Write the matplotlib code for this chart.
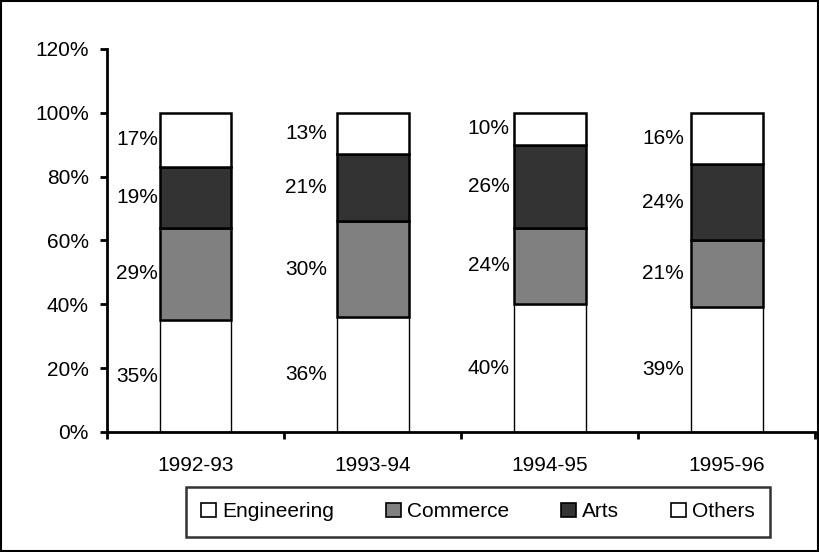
import matplotlib
matplotlib.use('Agg')
import matplotlib.pyplot as plt
from matplotlib.patches import Rectangle
import numpy as np

plt.rcParams['font.family'] = ['Liberation Sans', 'DejaVu Sans']

# data
years = ['1992-93', '1993-94', '1994-95', '1995-96']
engineering = [35, 36, 40, 39]
commerce = [29, 30, 24, 21]
arts = [19, 21, 26, 24]
others = [17, 13, 10, 16]

series = [('Engineering', engineering, 'white', 1.0),
          ('Commerce', commerce, '#808080', 1.8),
          ('Arts', arts, '#333333', 1.8),
          ('Others', others, 'white', 1.8)]

fs = 15
# horizontal offset of the value labels from each bar centre (category units)
label_dx = [-0.33, -0.375, -0.345, -0.36]

fig = plt.figure(figsize=(8.2, 5.52), dpi=100)
ax = fig.add_axes([0.1305, 0.2174, 0.864, 0.694])

x = np.arange(len(years))
bottom = np.zeros(len(years))
handles = []
for name, vals, col, lw in series:
    vals = np.array(vals, dtype=float)
    ax.bar(x, vals / 100, bottom=bottom / 100, width=0.405, color=col,
           edgecolor='black', linewidth=lw, zorder=2)
    for i in range(len(years)):
        ax.text(x[i] + label_dx[i], (bottom[i] + vals[i] / 2) / 100, f'{int(vals[i])}%',
                ha='center', va='center', fontsize=fs, zorder=3,
                bbox=dict(facecolor='white', edgecolor='none', pad=0.3))
    bottom += vals
    handles.append(Rectangle((0, 0), 1, 1, facecolor=col, edgecolor='black', linewidth=1.2))

ax.set_xlim(-0.5, len(years) - 0.5)
ax.set_ylim(0, 1.2)
ax.set_yticks(np.arange(0, 1.21, 0.2))
ax.set_yticklabels([f'{int(round(v * 100))}%' for v in np.arange(0, 1.21, 0.2)])
ax.set_xticks(np.arange(-0.5, len(years), 1.0))
ax.set_xticklabels([])
ax.set_xticks(x, minor=True)
ax.set_xticklabels(years, minor=True)
ax.tick_params(axis='x', which='minor', length=0, pad=17, labelsize=fs)
ax.tick_params(axis='x', which='major', length=5, width=2, direction='out')
ax.tick_params(axis='y', length=5, width=2, direction='out', pad=8, labelsize=fs)

for s in ['top', 'right']:
    ax.spines[s].set_visible(False)
for s in ['left', 'bottom']:
    ax.spines[s].set_linewidth(2)

leg = fig.legend(handles, [s[0] for s in series], loc='center', ncol=4,
                 bbox_to_anchor=(0.583, 0.073), fontsize=fs, frameon=True,
                 fancybox=False, edgecolor='black', handlelength=0.7,
                 handleheight=0.7, handletextpad=0.3, columnspacing=2.5,
                 borderpad=0.75, borderaxespad=0)
leg.get_frame().set_linewidth(1.8)

fig.patches.append(Rectangle((0.001, 0.001), 0.997, 0.997, transform=fig.transFigure,
                             fill=False, edgecolor='black', linewidth=1.5))

fig.savefig('out.png', dpi=100)
